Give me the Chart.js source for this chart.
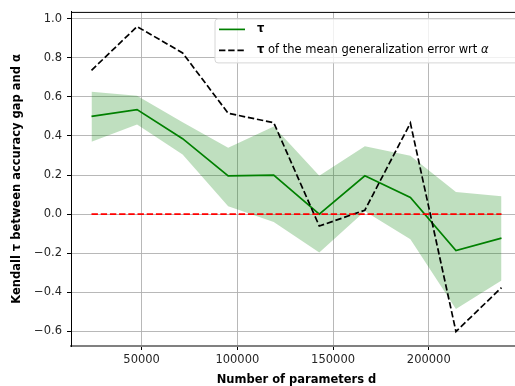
<!DOCTYPE html>
<html>
<head>
<meta charset="utf-8">
<script src="https://cdn.jsdelivr.net/npm/chart.js@4/dist/chart.umd.min.js"></script>
<style>
  html, body { margin: 0; padding: 0; background: #fff; overflow: hidden; }
  #wrap { width: 525px; height: 386px; position: relative; }
</style>
</head>
<body>
<div id="wrap"><canvas id="c" width="525" height="386"></canvas></div>
<script>
// ---- data ----
const params = [23800, 47600, 71400, 95200, 119000, 142800, 166600, 190400, 214200, 238000];
const tauMean = [0.50, 0.535, 0.386, 0.196, 0.20, 0.0, 0.196, 0.085, -0.187, -0.123];
const tauUpper = [0.626, 0.606, 0.47, 0.34, 0.449, 0.196, 0.348, 0.299, 0.113, 0.091];
const tauLower = [0.37, 0.459, 0.305, 0.04, -0.04, -0.196, 0.015, -0.128, -0.486, -0.34];
const tauMeanGenErr = [0.736, 0.96, 0.825, 0.516, 0.468, -0.061, 0.02, 0.466, -0.601, -0.376];
const zeroLine = [0, 0];
const xTicks = [50000, 100000, 150000, 200000];
const yTicks = [-0.6, -0.4, -0.2, 0.0, 0.2, 0.4, 0.6, 0.8, 1.0];

const pts = (xs, ys) => xs.map((x, i) => ({ x: x, y: ys[i] }));
const FONT = "'DejaVu Sans', sans-serif";
const FS = 11.5;

const topSpineAndLegend = {
  id: 'topSpineAndLegend',
  afterDatasetsDraw(chart) {
    const ctx = chart.ctx;
    const a = chart.chartArea;
    ctx.save();
    // top spine
    ctx.strokeStyle = '#000';
    ctx.lineWidth = 1;
    ctx.beginPath();
    ctx.moveTo(a.left, a.top + 0.5);
    ctx.lineTo(a.right, a.top + 0.5);
    ctx.stroke();
    // legend box
    const bx = a.left + 144, by = a.top + 7, bw = 306, bh = 44, r = 3;
    ctx.fillStyle = 'rgba(255,255,255,0.8)';
    ctx.strokeStyle = '#d6d6d6';
    ctx.lineWidth = 1;
    ctx.beginPath();
    ctx.moveTo(bx + r, by);
    ctx.lineTo(bx + bw - r, by);
    ctx.quadraticCurveTo(bx + bw, by, bx + bw, by + r);
    ctx.lineTo(bx + bw, by + bh - r);
    ctx.quadraticCurveTo(bx + bw, by + bh, bx + bw - r, by + bh);
    ctx.lineTo(bx + r, by + bh);
    ctx.quadraticCurveTo(bx, by + bh, bx, by + bh - r);
    ctx.lineTo(bx, by + r);
    ctx.quadraticCurveTo(bx, by, bx + r, by);
    ctx.closePath();
    ctx.fill();
    ctx.stroke();
    // entries
    const hx0 = bx + 4, hx1 = bx + 30, tx = bx + 42;
    const y1 = by + 10.5, y2 = by + 31.5;
    ctx.lineWidth = 1.7;
    ctx.strokeStyle = '#008000';
    ctx.setLineDash([]);
    ctx.beginPath(); ctx.moveTo(hx0, y1); ctx.lineTo(hx1, y1); ctx.stroke();
    ctx.strokeStyle = '#000';
    ctx.setLineDash([6.4, 2.8]);
    ctx.beginPath(); ctx.moveTo(hx0, y2); ctx.lineTo(hx1, y2); ctx.stroke();
    ctx.setLineDash([]);
    ctx.fillStyle = '#000';
    ctx.textBaseline = 'middle';
    ctx.textAlign = 'left';
    ctx.font = 'bold ' + FS + 'px ' + FONT;
    ctx.fillText('\u03C4', tx, y1);
    ctx.fillText('\u03C4', tx, y2);
    const w = ctx.measureText('\u03C4').width;
    ctx.font = FS + 'px ' + FONT;
    const s = ' of the mean generalization error wrt ';
    ctx.fillText(s, tx + w, y2);
    const w2 = ctx.measureText(s).width;
    ctx.font = 'italic ' + FS + 'px ' + FONT;
    ctx.fillText('\u03B1', tx + w + w2, y2);
    ctx.restore();
  }
};

new Chart(document.getElementById('c'), {
  type: 'line',
  data: {
    datasets: [
      {
        label: 'upper',
        data: pts(params, tauUpper),
        borderWidth: 0,
        pointRadius: 0,
        backgroundColor: 'rgba(0,128,0,0.25)',
        fill: '+1',
        order: 5
      },
      {
        label: 'lower',
        data: pts(params, tauLower),
        borderWidth: 0,
        pointRadius: 0,
        backgroundColor: 'rgba(0,128,0,0.25)',
        fill: false,
        order: 5
      },
      {
        label: 'τ',
        data: pts(params, tauMean),
        borderColor: '#008000',
        borderWidth: 1.7,
        pointRadius: 0,
        fill: false,
        order: 3
      },
      {
        label: 'τ of the mean generalization error wrt α',
        data: pts(params, tauMeanGenErr),
        borderColor: '#000',
        borderWidth: 1.7,
        borderDash: [6.4, 2.8],
        pointRadius: 0,
        fill: false,
        order: 2
      },
      {
        label: 'zero',
        data: pts([params[0], params[params.length - 1]], zeroLine),
        borderColor: '#ff0000',
        borderWidth: 1.7,
        borderDash: [6.4, 2.8],
        pointRadius: 0,
        fill: false,
        order: 1
      }
    ]
  },
  options: {
    responsive: false,
    animation: false,
    layout: { padding: { top: 9, right: 3, left: 0, bottom: 0 } },
    plugins: { legend: { display: false }, tooltip: { enabled: false } },
    elements: { line: { tension: 0 } },
    scales: {
      x: {
        type: 'linear',
        min: 13090,
        max: 248710,
        afterFit(s) { s.height = 40; },
        afterBuildTicks(s) { s.ticks = xTicks.map(v => ({ value: v })); },
        ticks: {
          autoSkip: false,
          maxRotation: 0,
          padding: 3,
          color: '#262626',
          font: { family: FONT, size: FS },
          callback: v => String(v)
        },
        grid: { color: '#b0b0b0', lineWidth: 0.9, tickLength: 4, tickColor: '#000', tickWidth: 1 },
        border: { color: '#808080', width: 2 },
        title: {
          display: true,
          text: 'Number of parameters d',
          color: '#000',
          font: { family: FONT, size: FS, weight: 'bold', lineHeight: 1.0 },
          padding: { top: 0, bottom: 0 }
        }
      },
      y: {
        min: -0.675,
        max: 1.035,
        afterFit(s) { s.width = 71; },
        afterBuildTicks(s) { s.ticks = yTicks.map(v => ({ value: v })); },
        ticks: {
          autoSkip: false,
          padding: 5,
          color: '#262626',
          font: { family: FONT, size: FS },
          callback: v => (Math.abs(v) < 1e-9 ? '0.0' : (v < 0 ? '\u2212' : '') + Math.abs(v).toFixed(1))
        },
        grid: { color: '#b0b0b0', lineWidth: 0.9, tickLength: 4, tickColor: '#000', tickWidth: 1 },
        border: { color: '#000', width: 1 },
        title: {
          display: true,
          text: 'Kendall \u03C4 between accuracy gap and \u03B1',
          color: '#000',
          font: { family: FONT, size: FS, weight: 'bold', lineHeight: 1.2 },
          padding: { top: 10, bottom: 0 }
        }
      }
    }
  },
  plugins: [topSpineAndLegend]
});
</script>
</body>
</html>
